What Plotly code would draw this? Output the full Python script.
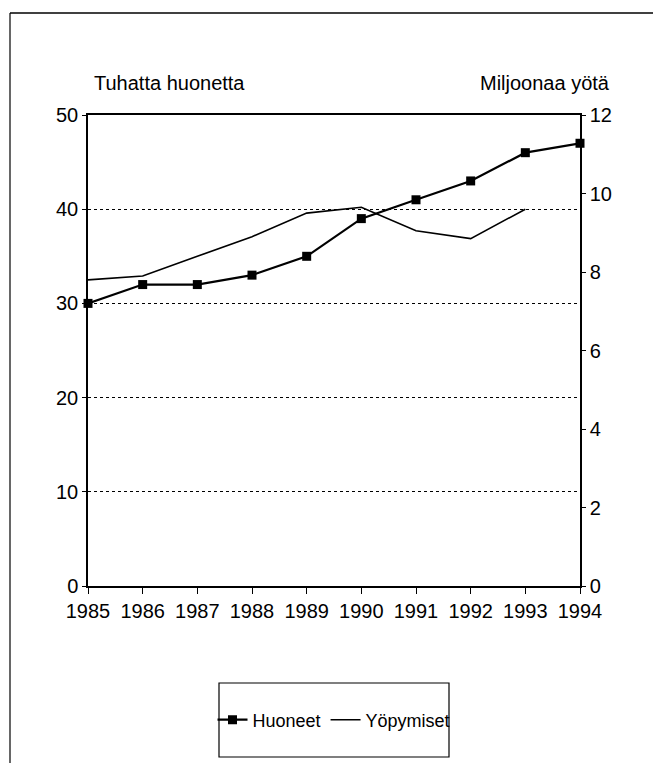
import plotly.graph_objects as go

years = [1985, 1986, 1987, 1988, 1989, 1990, 1991, 1992, 1993, 1994]
huoneet = [30, 32, 32, 33, 35, 39, 41, 43, 46, 47]          # tuhatta huonetta (left axis)
yopymiset = [7.8, 7.9, 8.4, 8.9, 9.5, 9.65, 9.05, 8.85, 9.6, None]  # miljoonaa yötä (right axis)
year_labels = [str(y) for y in years]

FONT = "Liberation Sans Narrow, Arial Narrow, Liberation Sans, Arial, sans-serif"
W, H = 661, 763
OFF = 8  # page body margin
# plot area in page pixels
PL, PR, PT, PB = 88, 580, 115, 586
L, R, T, B = PL - OFF, W - (PR - OFF), PT - OFF, H - (PB - OFF)

pw, ph = PR - PL, PB - PT
def px(x):
    return (x - PL) / pw
def py(y):
    return (PB - y) / ph

fig = go.Figure()
fig.add_trace(go.Scatter(
    x=years, y=huoneet, name="Huoneet", mode="lines+markers",
    line=dict(color="black", width=2.2),
    marker=dict(symbol="square", size=9, color="black"),
    cliponaxis=False, yaxis="y"))
fig.add_trace(go.Scatter(
    x=years, y=yopymiset, name="Yöpymiset", mode="lines",
    line=dict(color="black", width=1.6),
    cliponaxis=False, yaxis="y2"))

fig.update_layout(
    width=W, height=H,
    margin=dict(l=L, r=R, t=T, b=B, pad=0),
    paper_bgcolor="white", plot_bgcolor="white",
    font=dict(family=FONT, size=20, color="black"),
    showlegend=True,
    legend=dict(orientation="h", x=px(334), xanchor="center",
                y=py(720), yanchor="middle",
                bgcolor="rgba(0,0,0,0)", borderwidth=0,
                font=dict(family=FONT, size=18, color="black"),
                itemwidth=30, tracegroupgap=0),
    xaxis=dict(range=[1985, 1994], tickvals=years, ticktext=year_labels,
               showline=True, linecolor="black", linewidth=1.5, mirror=True,
               ticks="outside", ticklen=6, tickcolor="black", tickwidth=1,
               showgrid=False, zeroline=False, fixedrange=True),
    yaxis=dict(range=[0, 50], tickvals=[0, 10, 20, 30, 40, 50],
               showline=True, linecolor="black", linewidth=1.5,
               ticks="outside", ticklen=4, tickcolor="black",
               showgrid=True, gridcolor="black", gridwidth=1, griddash="dot",
               zeroline=False, fixedrange=True),
    yaxis2=dict(range=[0, 12], tickvals=[0, 2, 4, 6, 8, 10, 12],
                overlaying="y", side="right",
                showline=True, linecolor="black", linewidth=1.5,
                ticks="outside", ticklen=4, tickcolor="black",
                showgrid=False, zeroline=False, fixedrange=True),
    annotations=[
        dict(text="Tuhatta huonetta", xref="paper", yref="paper",
             x=px(92), y=py(83), xanchor="left", yanchor="middle",
             showarrow=False, font=dict(family=FONT, size=20)),
        dict(text="Miljoonaa yötä", xref="paper", yref="paper",
             x=px(612), y=py(83), xanchor="right", yanchor="middle",
             showarrow=False, font=dict(family=FONT, size=20)),
    ],
    shapes=[
        # outer frame
        dict(type="line", xref="paper", yref="paper", x0=px(10), x1=px(10),
             y0=py(13), y1=py(800), line=dict(color="black", width=1.2)),
        dict(type="line", xref="paper", yref="paper", x0=px(655), x1=px(655),
             y0=py(13), y1=py(800), line=dict(color="black", width=1.2)),
        dict(type="line", xref="paper", yref="paper", x0=px(10), x1=px(655),
             y0=py(13), y1=py(13), line=dict(color="black", width=1.5)),
        # legend box
        dict(type="rect", xref="paper", yref="paper", x0=px(219), x1=px(449),
             y0=py(683), y1=py(757), line=dict(color="black", width=1.2)),
    ],
)

fig.write_html("out.html")
